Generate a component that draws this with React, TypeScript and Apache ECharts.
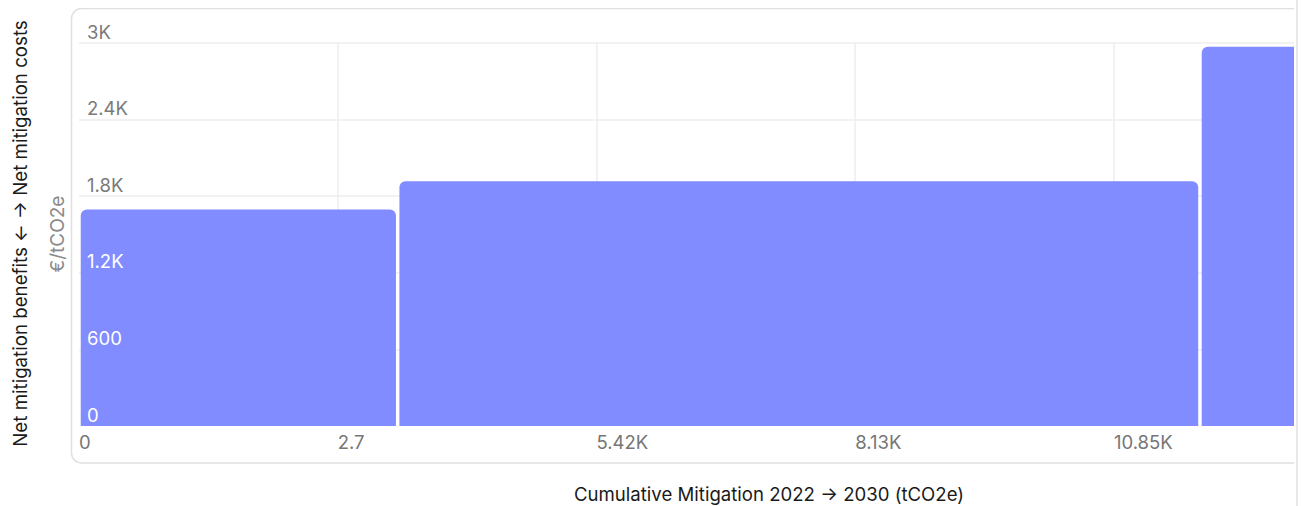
import React, { useEffect, useRef } from 'react';
import * as echarts from 'echarts';

// ---- data ----
const segmentMitigation = [3341, 8411, 1810.5]; // tCO2e per measure (bar widths)
const segmentCost = [1695, 1917, 2970]; // €/tCO2e (bar heights)
const xTickLabels = ['0', '2.71K', '5.42K', '8.13K', '10.85K', '13.56K'];
const yTickLabels = ['0', '600', '1.2K', '1.8K', '2.4K', '3K'];
const xInterval = 2712.5;
const xMax = 13562.5;
const yInterval = 600;
const yMax = 3000;

const yTitle = 'Net mitigation benefits ← → Net mitigation costs';
const yUnit = '€/tCO2e';
const xTitle = 'Cumulative Mitigation 2022 → 2030 (tCO2e)';

const FONT = 'Inter, "Noto Sans", sans-serif';
const BAR = '#808cff';

function buildSegments() {
  const out: number[][] = [];
  let acc = 0;
  segmentMitigation.forEach((w, i) => {
    out.push([acc, acc + w, segmentCost[i]]);
    acc += w;
  });
  return out;
}

export default function App() {
  const ref = useRef<HTMLDivElement>(null);

  useEffect(() => {
    if (!ref.current) return;
    const chart = echarts.init(ref.current, null, { renderer: 'svg' });
    const data = buildSegments();
    const xIdx = (v: number) => Math.round(v / xInterval);
    const yIdx = (v: number) => Math.round(v / yInterval);

    const baseX = {
      type: 'value',
      min: 0,
      max: xMax,
      interval: xInterval,
      position: 'bottom',
      axisLine: { show: false },
      axisTick: { show: false },
    };
    const baseY = {
      type: 'value',
      min: 0,
      max: yMax,
      interval: yInterval,
      position: 'left',
      axisLine: { show: false },
      axisTick: { show: false },
    };

    chart.setOption({
      animation: false,
      grid: {
        left: 71,
        top: 35,
        width: xMax * 0.095385,
        height: 383,
        containLabel: false,
        outerBoundsMode: 'none',
      },
      graphic: [
        {
          type: 'rect',
          z: -10,
          silent: true,
          shape: { x: 63.5, y: 0.5, width: 1500, height: 454.5, r: 10 },
          style: { fill: 'transparent', stroke: '#e0e0e0', lineWidth: 1.5 },
        },
        {
          type: 'text',
          x: 12,
          y: 225.5,
          rotation: Math.PI / 2,
          style: {
            text: yTitle,
            fill: '#1a1a1a',
            font: `18.7px ${FONT}`,
            textAlign: 'center',
            textVerticalAlign: 'middle',
          },
        },
        {
          type: 'text',
          x: 49,
          y: 226,
          rotation: Math.PI / 2,
          style: {
            text: yUnit,
            fill: '#8a8a8a',
            font: `19px ${FONT}`,
            textAlign: 'center',
            textVerticalAlign: 'middle',
          },
        },
        {
          type: 'text',
          x: 761,
          y: 486,
          style: {
            text: xTitle,
            fill: '#1a1a1a',
            font: `18.6px ${FONT}`,
            textAlign: 'center',
            textVerticalAlign: 'middle',
          },
        },
      ],
      xAxis: [
        {
          ...baseX,
          z: 0,
          splitLine: { show: true, showMinLine: false, lineStyle: { color: '#eeeeee', width: 1.5 } },
          axisLabel: {
            show: true,
            showMaxLabel: false,
            align: 'left',
            margin: 6,
            color: '#767676',
            fontSize: 18.5,
            fontFamily: FONT,
            formatter: (v: number) => (xIdx(v) === 1 ? '' : xTickLabels[xIdx(v)] ?? ''),
          },
        },
        {
          ...baseX,
          z: 0,
          splitLine: { show: false },
          axisLabel: {
            show: true,
            showMaxLabel: false,
            align: 'left',
            margin: 6,
            color: '#767676',
            fontSize: 18.5,
            fontFamily: FONT,
            width: 30,
            overflow: 'truncate',
            ellipsis: '',
            formatter: (v: number) => (xIdx(v) === 1 ? xTickLabels[1] : ''),
          },
        },
      ],
      yAxis: [
        {
          ...baseY,
          z: 0,
          splitLine: { show: true, showMinLine: false, lineStyle: { color: '#eeeeee', width: 1.5 } },
          axisLabel: { show: false },
        },
        {
          ...baseY,
          z: 10,
          splitLine: { show: false },
          axisLabel: {
            show: true,
            inside: true,
            margin: 8,
            verticalAlign: 'bottom',
            padding: [0, 0, 2, 0],
            fontSize: 18.5,
            fontFamily: FONT,
            color: (v: any) => (Number(v) < segmentCost[0] - 150 ? '#ffffff' : '#7a7a7a'),
            formatter: (v: number) => yTickLabels[yIdx(v)] ?? '',
          },
        },
      ],
      series: [
        {
          type: 'custom',
          xAxisIndex: 0,
          yAxisIndex: 0,
          z: 2,
          clip: true,
          encode: { x: [0, 1], y: 2 },
          data,
          renderItem: (params: any, api: any) => {
            const x0 = api.value(0);
            const x1 = api.value(1);
            const v = api.value(2);
            const pTop = api.coord([x0, v]);
            const pBot = api.coord([x1, 0]);
            const inset = 1.75;
            return {
              type: 'rect',
              shape: {
                x: pTop[0] + inset,
                y: pTop[1],
                width: pBot[0] - pTop[0] - inset * 2,
                height: pBot[1] - pTop[1],
                r: [6, 6, 0, 0],
              },
              style: { fill: BAR },
            };
          },
        },
      ],
    });

    return () => chart.dispose();
  }, []);

  return (
    <>
      <div ref={ref} style={{ width: 1288, height: 498 }} />
      <div
        style={{
          position: 'fixed',
          left: 1296,
          top: 0,
          width: 2,
          height: '100vh',
          background: '#e8e8e8',
        }}
      />
    </>
  );
}
